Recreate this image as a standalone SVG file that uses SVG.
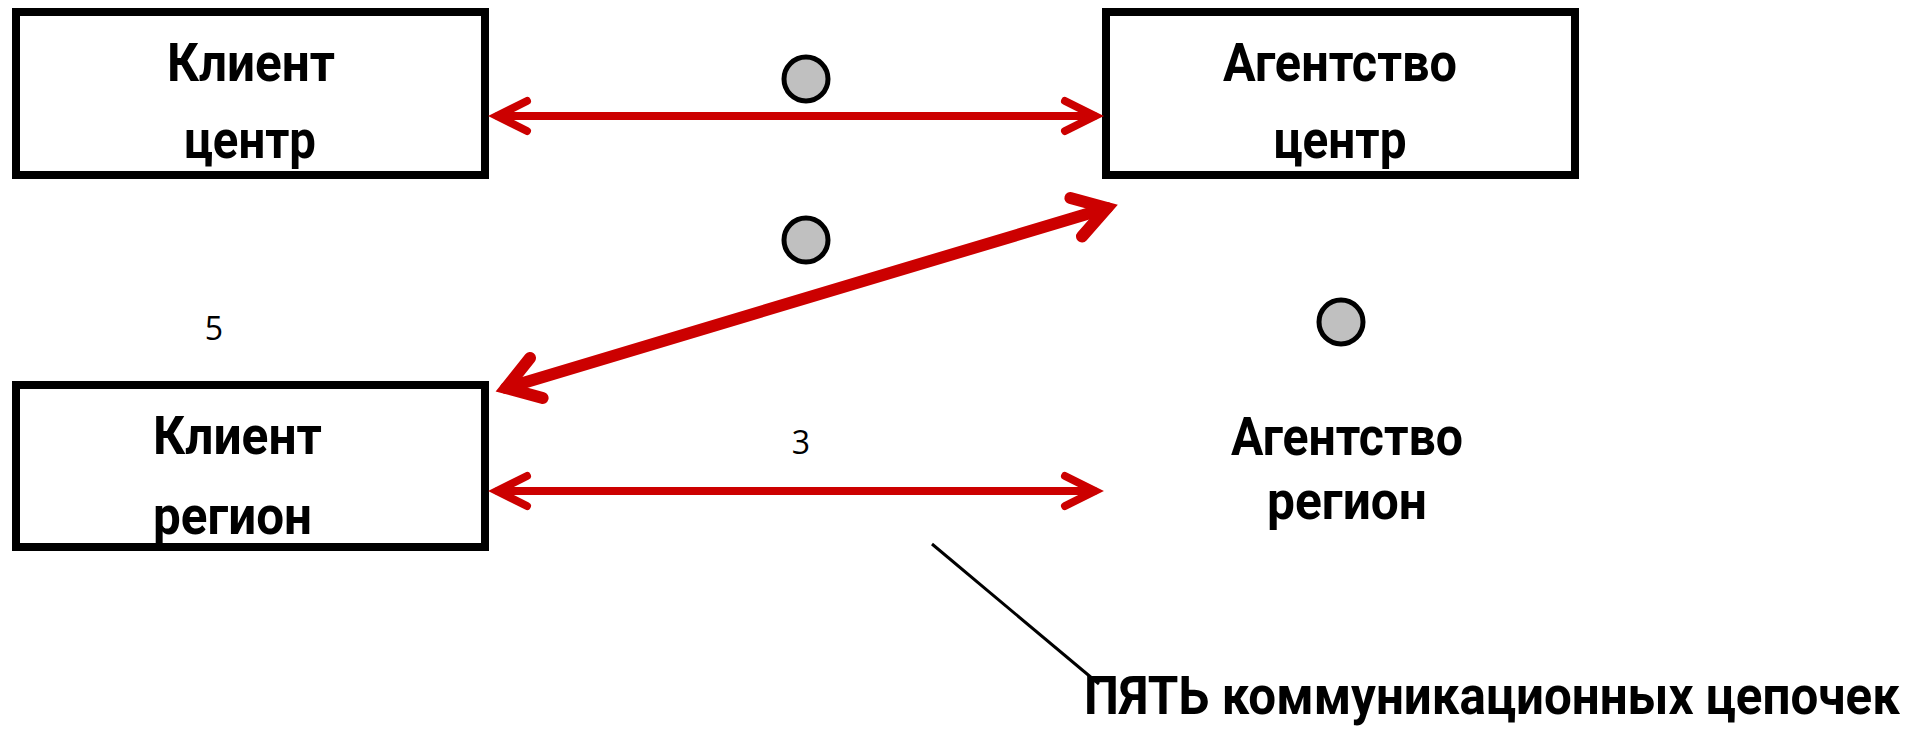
<svg xmlns="http://www.w3.org/2000/svg" width="1918" height="732" viewBox="0 0 1918 732">
  <style>
    .box { fill: #ffffff; stroke: #000000; stroke-width: 8; }
    .lbl { font-family: Roboto, "Noto Sans", "DejaVu Sans", sans-serif; font-weight: 700; font-size: 53px; fill: #000000; }
    .num { font-family: "Open Sans", "Noto Sans", sans-serif; font-weight: 400; font-size: 32px; fill: #000000; }
    .dot { fill: #c0c0c0; stroke: #000000; stroke-width: 5; }
    .arr { fill: none; stroke: #cc0000; stroke-width: 8; stroke-linecap: round; stroke-linejoin: miter; stroke-miterlimit: 10; }
    .arr-thick { fill: none; stroke: #cc0000; stroke-width: 12; stroke-linecap: round; stroke-linejoin: miter; stroke-miterlimit: 10; }
    .lead { fill: none; stroke: #000000; stroke-width: 3; }
  </style>
  <rect width="1918" height="732" fill="#ffffff"/>

  <g id="client-center">
    <rect class="box" x="16" y="12" width="469" height="163"/>
    <text class="lbl" x="251" y="81" text-anchor="middle" textLength="168" lengthAdjust="spacingAndGlyphs">Клиент</text>
    <text class="lbl" x="250" y="158" text-anchor="middle" textLength="132" lengthAdjust="spacingAndGlyphs">центр</text>
  </g>

  <g id="agency-center">
    <rect class="box" x="1106" y="12" width="469" height="163"/>
    <text class="lbl" x="1340" y="81" text-anchor="middle" textLength="234" lengthAdjust="spacingAndGlyphs">Агентство</text>
    <text class="lbl" x="1340" y="158" text-anchor="middle" textLength="133" lengthAdjust="spacingAndGlyphs">центр</text>
  </g>

  <g id="client-region">
    <rect class="box" x="16" y="385" width="469" height="162"/>
    <text class="lbl" x="153" y="454" textLength="169" lengthAdjust="spacingAndGlyphs">Клиент</text>
    <text class="lbl" x="153" y="534" textLength="159" lengthAdjust="spacingAndGlyphs">регион</text>
  </g>

  <g id="agency-region">
    <text class="lbl" x="1347" y="455" text-anchor="middle" textLength="232" lengthAdjust="spacingAndGlyphs">Агентство</text>
    <text class="lbl" x="1347" y="519" text-anchor="middle" textLength="160" lengthAdjust="spacingAndGlyphs">регион</text>
  </g>

  <g id="markers">
    <circle class="dot" cx="806" cy="79" r="22"/>
    <circle class="dot" cx="806" cy="240" r="22"/>
    <circle class="dot" cx="1341" cy="322" r="22"/>
    <text class="num" x="214" y="340" text-anchor="middle">5</text>
    <text class="num" x="801" y="454" text-anchor="middle">3</text>
  </g>

  <g id="connectors">
    <!-- client center <-> agency center -->
    <line class="arr" x1="498" y1="116" x2="1094" y2="116" stroke-linecap="butt"/>
    <polyline class="arr" points="527,101 497,116 527,131"/>
    <polyline class="arr" points="1065,101 1095,116 1065,131"/>
    <!-- client region <-> agency center -->
    <line class="arr-thick" x1="506" y1="388" x2="1107" y2="208" stroke-linecap="butt"/>
    <polyline class="arr-thick" points="530,358 506,388 542.6,398"/>
    <polyline class="arr-thick" points="1070.4,198 1107,208 1082,236.5"/>
    <!-- client region <-> agency region -->
    <line class="arr" x1="498" y1="491" x2="1094" y2="491" stroke-linecap="butt"/>
    <polyline class="arr" points="527,476 497,491 527,506"/>
    <polyline class="arr" points="1065,476 1095,491 1065,506"/>
    <!-- leader -->
    <line class="lead" x1="932" y1="544" x2="1099" y2="684"/>
  </g>

  <g id="caption">
    <text class="lbl" x="1084" y="714" font-size="48" textLength="816" lengthAdjust="spacingAndGlyphs">ПЯТЬ коммуникационных цепочек</text>
  </g>
</svg>
